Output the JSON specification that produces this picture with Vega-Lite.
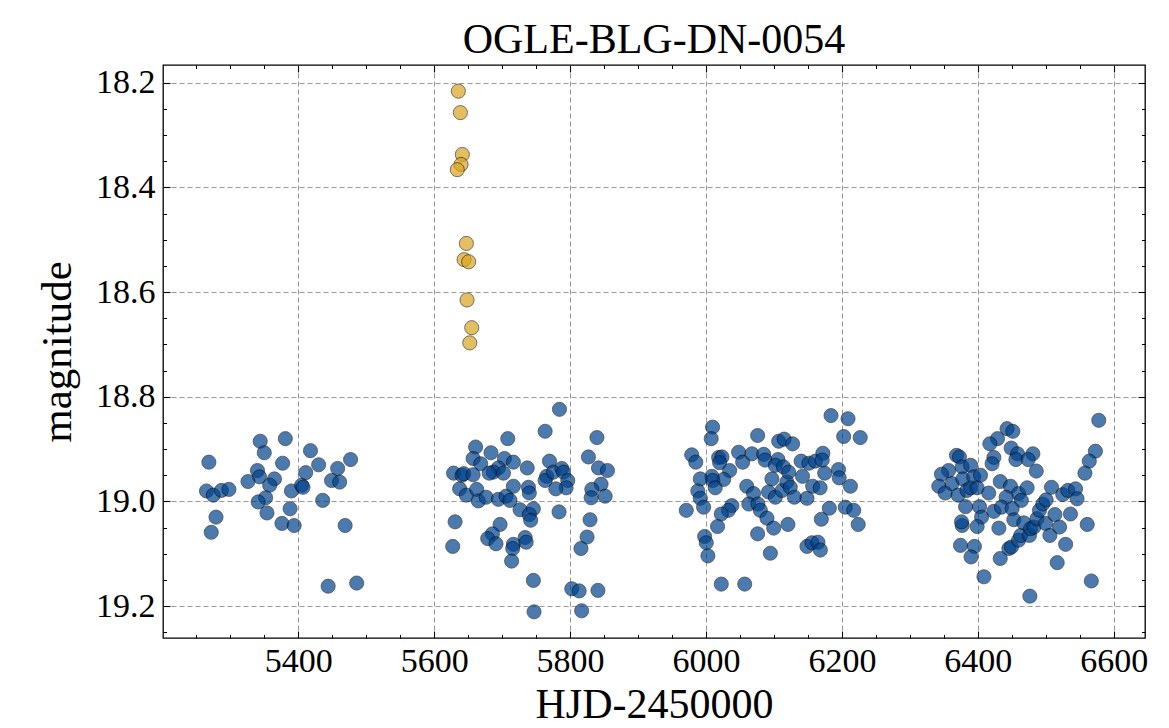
{
  "$schema": "https://vega.github.io/schema/vega-lite/v6.json",
  "width": 982,
  "height": 573,
  "autosize": "none",
  "padding": {"left": 163, "top": 65, "right": 24, "bottom": 90},
  "background": "white",
  "config": {
    "view": {"stroke": "black", "strokeWidth": 1.3},
    "font": "Liberation Serif"
  },
  "title": {
    "text": "OGLE-BLG-DN-0054",
    "font": "Liberation Serif",
    "fontSize": 42,
    "fontWeight": "normal",
    "color": "black",
    "anchor": "middle",
    "frame": "group",
    "baseline": "alphabetic",
    "offset": 13,
    "dy": 44
  },
  "datasets": {
    "obs": [
      {"t": 5268.5, "m": 18.925, "s": "q"}, {"t": 5265, "m": 18.980, "s": "q"}, {"t": 5275, "m": 18.988, "s": "q"},
      {"t": 5287, "m": 18.979, "s": "q"}, {"t": 5298, "m": 18.977, "s": "q"}, {"t": 5279, "m": 19.030, "s": "q"},
      {"t": 5272, "m": 19.059, "s": "q"}, {"t": 5344, "m": 18.885, "s": "q"}, {"t": 5350, "m": 18.907, "s": "q"},
      {"t": 5381, "m": 18.880, "s": "q"}, {"t": 5377, "m": 18.927, "s": "q"}, {"t": 5340, "m": 18.941, "s": "q"},
      {"t": 5343, "m": 18.953, "s": "q"}, {"t": 5326, "m": 18.962, "s": "q"}, {"t": 5365, "m": 18.957, "s": "q"},
      {"t": 5358, "m": 18.969, "s": "q"}, {"t": 5352, "m": 18.993, "s": "q"}, {"t": 5341, "m": 19.001, "s": "q"},
      {"t": 5354, "m": 19.022, "s": "q"}, {"t": 5376, "m": 19.042, "s": "q"}, {"t": 5394, "m": 19.046, "s": "q"},
      {"t": 5388, "m": 19.014, "s": "q"}, {"t": 5390, "m": 18.980, "s": "q"}, {"t": 5405, "m": 18.969, "s": "q"},
      {"t": 5407, "m": 18.973, "s": "q"}, {"t": 5411, "m": 18.945, "s": "q"}, {"t": 5418, "m": 18.903, "s": "q"},
      {"t": 5430, "m": 18.930, "s": "q"}, {"t": 5436, "m": 18.998, "s": "q"}, {"t": 5458, "m": 18.937, "s": "q"},
      {"t": 5449, "m": 18.960, "s": "q"}, {"t": 5461, "m": 18.963, "s": "q"}, {"t": 5477, "m": 18.920, "s": "q"},
      {"t": 5469, "m": 19.046, "s": "q"}, {"t": 5444, "m": 19.162, "s": "q"}, {"t": 5486, "m": 19.156, "s": "q"},

      {"t": 5784.4, "m": 18.824, "s": "q"}, {"t": 5763.3, "m": 18.866, "s": "q"}, {"t": 5708.3, "m": 18.880, "s": "q"},
      {"t": 5661, "m": 18.896, "s": "q"}, {"t": 5839.5, "m": 18.878, "s": "q"}, {"t": 5657.3, "m": 18.918, "s": "q"},
      {"t": 5683.6, "m": 18.907, "s": "q"}, {"t": 5668.5, "m": 18.928, "s": "q"}, {"t": 5703.4, "m": 18.918, "s": "q"},
      {"t": 5716.6, "m": 18.925, "s": "q"}, {"t": 5694.5, "m": 18.936, "s": "q"}, {"t": 5687, "m": 18.944, "s": "q"},
      {"t": 5702, "m": 18.946, "s": "q"}, {"t": 5681, "m": 18.946, "s": "q"}, {"t": 5737, "m": 18.936, "s": "q"},
      {"t": 5628.6, "m": 18.946, "s": "q"}, {"t": 5641, "m": 18.950, "s": "q"}, {"t": 5643.6, "m": 18.947, "s": "q"},
      {"t": 5657.3, "m": 18.949, "s": "q"}, {"t": 5637.5, "m": 18.976, "s": "q"}, {"t": 5647.4, "m": 18.988, "s": "q"},
      {"t": 5662.6, "m": 18.977, "s": "q"}, {"t": 5665, "m": 18.999, "s": "q"}, {"t": 5676.5, "m": 18.992, "s": "q"},
      {"t": 5694.5, "m": 18.996, "s": "q"}, {"t": 5705.8, "m": 18.990, "s": "q"}, {"t": 5711.6, "m": 18.998, "s": "q"},
      {"t": 5716.6, "m": 18.971, "s": "q"}, {"t": 5726.4, "m": 19.016, "s": "q"}, {"t": 5738.7, "m": 18.973, "s": "q"},
      {"t": 5740, "m": 18.984, "s": "q"}, {"t": 5746, "m": 19.014, "s": "q"}, {"t": 5740, "m": 19.025, "s": "q"},
      {"t": 5742, "m": 19.036, "s": "q"}, {"t": 5769.7, "m": 18.923, "s": "q"}, {"t": 5765.6, "m": 18.952, "s": "q"},
      {"t": 5763.3, "m": 18.960, "s": "q"}, {"t": 5775.4, "m": 18.944, "s": "q"}, {"t": 5787.8, "m": 18.937, "s": "q"},
      {"t": 5790.3, "m": 18.944, "s": "q"}, {"t": 5796.6, "m": 18.960, "s": "q"}, {"t": 5794.2, "m": 18.974, "s": "q"},
      {"t": 5779, "m": 18.976, "s": "q"}, {"t": 5783.8, "m": 19.020, "s": "q"}, {"t": 5827, "m": 18.915, "s": "q"},
      {"t": 5841.8, "m": 18.936, "s": "q"}, {"t": 5855, "m": 18.941, "s": "q"}, {"t": 5845.6, "m": 18.967, "s": "q"},
      {"t": 5832, "m": 18.977, "s": "q"}, {"t": 5831, "m": 18.993, "s": "q"}, {"t": 5851.6, "m": 18.990, "s": "q"},
      {"t": 5630.8, "m": 19.039, "s": "q"}, {"t": 5627.3, "m": 19.086, "s": "q"}, {"t": 5697, "m": 19.044, "s": "q"},
      {"t": 5685.7, "m": 19.062, "s": "q"}, {"t": 5678.8, "m": 19.071, "s": "q"}, {"t": 5691, "m": 19.081, "s": "q"},
      {"t": 5716.6, "m": 19.082, "s": "q"}, {"t": 5715.6, "m": 19.090, "s": "q"}, {"t": 5714, "m": 19.114, "s": "q"},
      {"t": 5733.9, "m": 19.069, "s": "q"}, {"t": 5735.4, "m": 19.078, "s": "q"}, {"t": 5829.4, "m": 19.035, "s": "q"},
      {"t": 5825, "m": 19.068, "s": "q"}, {"t": 5816, "m": 19.090, "s": "q"}, {"t": 5746, "m": 19.151, "s": "q"},
      {"t": 5747, "m": 19.211, "s": "q"}, {"t": 5802.5, "m": 19.167, "s": "q"}, {"t": 5813.4, "m": 19.171, "s": "q"},
      {"t": 5841, "m": 19.170, "s": "q"}, {"t": 5817, "m": 19.209, "s": "q"},

      {"t": 6184, "m": 18.836, "s": "q"}, {"t": 6209, "m": 18.842, "s": "q"}, {"t": 6202.6, "m": 18.876, "s": "q"},
      {"t": 6227, "m": 18.878, "s": "q"}, {"t": 6009.7, "m": 18.858, "s": "q"}, {"t": 6007.7, "m": 18.880, "s": "q"},
      {"t": 6076, "m": 18.874, "s": "q"}, {"t": 6107, "m": 18.885, "s": "q"}, {"t": 6115, "m": 18.881, "s": "q"},
      {"t": 6127.5, "m": 18.890, "s": "q"}, {"t": 5979, "m": 18.911, "s": "q"}, {"t": 5985, "m": 18.925, "s": "q"},
      {"t": 6018.6, "m": 18.916, "s": "q"}, {"t": 6023.5, "m": 18.915, "s": "q"}, {"t": 6020, "m": 18.926, "s": "q"},
      {"t": 6048, "m": 18.906, "s": "q"}, {"t": 6054, "m": 18.925, "s": "q"}, {"t": 6067.6, "m": 18.909, "s": "q"},
      {"t": 6085, "m": 18.910, "s": "q"}, {"t": 6087, "m": 18.921, "s": "q"}, {"t": 6106, "m": 18.920, "s": "q"},
      {"t": 6102, "m": 18.931, "s": "q"}, {"t": 6114, "m": 18.934, "s": "q"}, {"t": 6140, "m": 18.923, "s": "q"},
      {"t": 6151.5, "m": 18.927, "s": "q"}, {"t": 6161, "m": 18.923, "s": "q"}, {"t": 6172, "m": 18.908, "s": "q"},
      {"t": 6171, "m": 18.921, "s": "q"}, {"t": 6034.8, "m": 18.941, "s": "q"}, {"t": 6026, "m": 18.958, "s": "q"},
      {"t": 6008.7, "m": 18.952, "s": "q"}, {"t": 5991.6, "m": 18.957, "s": "q"}, {"t": 6010, "m": 18.960, "s": "q"},
      {"t": 6013.6, "m": 18.974, "s": "q"}, {"t": 5988, "m": 18.980, "s": "q"}, {"t": 5991.6, "m": 18.994, "s": "q"},
      {"t": 5996.5, "m": 19.011, "s": "q"}, {"t": 5971, "m": 19.017, "s": "q"}, {"t": 6060, "m": 18.971, "s": "q"},
      {"t": 6070, "m": 18.985, "s": "q"}, {"t": 6097, "m": 18.957, "s": "q"}, {"t": 6092, "m": 18.982, "s": "q"},
      {"t": 6102, "m": 18.992, "s": "q"}, {"t": 6112, "m": 18.979, "s": "q"}, {"t": 6119, "m": 18.963, "s": "q"},
      {"t": 6121.6, "m": 18.944, "s": "q"}, {"t": 6124, "m": 18.973, "s": "q"}, {"t": 6130, "m": 18.992, "s": "q"},
      {"t": 6142, "m": 18.952, "s": "q"}, {"t": 6148.6, "m": 18.994, "s": "q"}, {"t": 6157, "m": 18.971, "s": "q"},
      {"t": 6168, "m": 18.974, "s": "q"}, {"t": 6174.7, "m": 18.946, "s": "q"}, {"t": 6195, "m": 18.939, "s": "q"},
      {"t": 6196, "m": 18.955, "s": "q"}, {"t": 6212.5, "m": 18.971, "s": "q"}, {"t": 6063, "m": 19.005, "s": "q"},
      {"t": 6076.5, "m": 19.005, "s": "q"}, {"t": 6080, "m": 19.017, "s": "q"}, {"t": 6038, "m": 19.008, "s": "q"},
      {"t": 6033, "m": 19.017, "s": "q"}, {"t": 6022.5, "m": 19.024, "s": "q"}, {"t": 6089.7, "m": 19.032, "s": "q"},
      {"t": 6099.6, "m": 19.051, "s": "q"}, {"t": 6120.6, "m": 19.044, "s": "q"}, {"t": 6017, "m": 19.048, "s": "q"},
      {"t": 6076, "m": 19.062, "s": "q"}, {"t": 6181.5, "m": 19.013, "s": "q"}, {"t": 6169.7, "m": 19.034, "s": "q"},
      {"t": 6205, "m": 19.011, "s": "q"}, {"t": 6217.4, "m": 19.017, "s": "q"}, {"t": 6224, "m": 19.044, "s": "q"},
      {"t": 5998, "m": 19.067, "s": "q"}, {"t": 6000.4, "m": 19.079, "s": "q"}, {"t": 6002.8, "m": 19.104, "s": "q"},
      {"t": 6094.7, "m": 19.099, "s": "q"}, {"t": 6148.6, "m": 19.086, "s": "q"}, {"t": 6156, "m": 19.079, "s": "q"},
      {"t": 6164.8, "m": 19.078, "s": "q"}, {"t": 6168.3, "m": 19.093, "s": "q"}, {"t": 6022.5, "m": 19.158, "s": "q"},
      {"t": 6057, "m": 19.158, "s": "q"},

      {"t": 6578, "m": 18.845, "s": "q"}, {"t": 6573, "m": 18.904, "s": "q"}, {"t": 6564, "m": 18.923, "s": "q"},
      {"t": 6557.6, "m": 18.946, "s": "q"}, {"t": 6443, "m": 18.861, "s": "q"}, {"t": 6451.5, "m": 18.866, "s": "q"},
      {"t": 6429, "m": 18.880, "s": "q"}, {"t": 6417.7, "m": 18.890, "s": "q"}, {"t": 6449, "m": 18.898, "s": "q"},
      {"t": 6458.5, "m": 18.909, "s": "q"}, {"t": 6456, "m": 18.920, "s": "q"}, {"t": 6481, "m": 18.909, "s": "q"},
      {"t": 6474, "m": 18.920, "s": "q"}, {"t": 6486, "m": 18.942, "s": "q"}, {"t": 6423.6, "m": 18.916, "s": "q"},
      {"t": 6421, "m": 18.928, "s": "q"}, {"t": 6368.6, "m": 18.912, "s": "q"}, {"t": 6373, "m": 18.915, "s": "q"},
      {"t": 6377, "m": 18.934, "s": "q"}, {"t": 6389.5, "m": 18.931, "s": "q"}, {"t": 6357, "m": 18.941, "s": "q"},
      {"t": 6346.5, "m": 18.948, "s": "q"}, {"t": 6342.6, "m": 18.971, "s": "q"}, {"t": 6352, "m": 18.984, "s": "q"},
      {"t": 6362, "m": 18.966, "s": "q"}, {"t": 6371, "m": 18.988, "s": "q"}, {"t": 6378, "m": 18.957, "s": "q"},
      {"t": 6384, "m": 18.979, "s": "q"}, {"t": 6389.5, "m": 18.974, "s": "q"}, {"t": 6394, "m": 18.953, "s": "q"},
      {"t": 6404, "m": 18.950, "s": "q"}, {"t": 6399, "m": 18.974, "s": "q"}, {"t": 6416, "m": 18.984, "s": "q"},
      {"t": 6433, "m": 18.962, "s": "q"}, {"t": 6448, "m": 18.971, "s": "q"}, {"t": 6460, "m": 18.985, "s": "q"},
      {"t": 6472.6, "m": 18.974, "s": "q"}, {"t": 6464, "m": 18.998, "s": "q"}, {"t": 6441.7, "m": 18.992, "s": "q"},
      {"t": 6382, "m": 19.010, "s": "q"}, {"t": 6402.5, "m": 19.010, "s": "q"}, {"t": 6405.5, "m": 19.030, "s": "q"},
      {"t": 6423.6, "m": 19.019, "s": "q"}, {"t": 6434.8, "m": 19.011, "s": "q"}, {"t": 6450.5, "m": 19.014, "s": "q"},
      {"t": 6453, "m": 19.035, "s": "q"}, {"t": 6377, "m": 19.046, "s": "q"}, {"t": 6376, "m": 19.039, "s": "q"},
      {"t": 6399, "m": 19.048, "s": "q"}, {"t": 6431, "m": 19.051, "s": "q"}, {"t": 6374.5, "m": 19.084, "s": "q"},
      {"t": 6395, "m": 19.086, "s": "q"}, {"t": 6390, "m": 19.106, "s": "q"}, {"t": 6433, "m": 19.109, "s": "q"},
      {"t": 6409, "m": 19.144, "s": "q"}, {"t": 6445.7, "m": 19.090, "s": "q"}, {"t": 6449.5, "m": 19.087, "s": "q"},
      {"t": 6460, "m": 19.074, "s": "q"}, {"t": 6463, "m": 19.065, "s": "q"}, {"t": 6467.7, "m": 19.041, "s": "q"},
      {"t": 6476, "m": 19.065, "s": "q"}, {"t": 6477.6, "m": 19.052, "s": "q"}, {"t": 6482.5, "m": 19.049, "s": "q"},
      {"t": 6487, "m": 19.033, "s": "q"}, {"t": 6490.7, "m": 19.017, "s": "q"}, {"t": 6495.6, "m": 19.005, "s": "q"},
      {"t": 6500.5, "m": 18.997, "s": "q"}, {"t": 6508.4, "m": 18.973, "s": "q"}, {"t": 6499.6, "m": 19.042, "s": "q"},
      {"t": 6506, "m": 19.065, "s": "q"}, {"t": 6513.4, "m": 19.025, "s": "q"}, {"t": 6520.3, "m": 19.049, "s": "q"},
      {"t": 6529.2, "m": 19.082, "s": "q"}, {"t": 6516.8, "m": 19.117, "s": "q"}, {"t": 6536.3, "m": 19.024, "s": "q"},
      {"t": 6525, "m": 18.987, "s": "q"}, {"t": 6532.5, "m": 18.979, "s": "q"}, {"t": 6543.8, "m": 18.976, "s": "q"},
      {"t": 6546, "m": 18.995, "s": "q"}, {"t": 6561, "m": 19.044, "s": "q"}, {"t": 6567, "m": 19.152, "s": "q"},
      {"t": 6476.6, "m": 19.181, "s": "q"},

      {"t": 5635.6, "m": 18.216, "s": "o"}, {"t": 5638.6, "m": 18.257, "s": "o"}, {"t": 5641.5, "m": 18.337, "s": "o"},
      {"t": 5639.6, "m": 18.356, "s": "o"}, {"t": 5634, "m": 18.366, "s": "o"}, {"t": 5647.4, "m": 18.507, "s": "o"},
      {"t": 5644, "m": 18.538, "s": "o"}, {"t": 5650.8, "m": 18.542, "s": "o"}, {"t": 5648.4, "m": 18.615, "s": "o"},
      {"t": 5655.3, "m": 18.668, "s": "o"}, {"t": 5652.4, "m": 18.697, "s": "o"}
    ]
  },
  "data": {"name": "obs"},
  "resolve": {"axis": {"x": "independent", "y": "independent"}},
  "layer": [
    {
      "mark": {"type": "point", "filled": true, "size": 200, "opacity": 0.7, "stroke": "black", "strokeWidth": 1, "strokeOpacity": 0.75},
      "encoding": {
        "x": {
          "field": "t", "type": "quantitative",
          "scale": {"domain": [5201, 6646], "nice": false, "zero": false},
          "axis": {
            "orient": "bottom", "values": [5400, 5600, 5800, 6000, 6200, 6400, 6600], "format": "d",
            "grid": true, "gridDash": [5, 3], "gridColor": "#8c8c8c", "gridWidth": 0.9,
            "domain": false, "ticks": true, "tickSize": -7, "tickColor": "black", "tickWidth": 1.1,
            "labelFont": "Liberation Serif", "labelFontSize": 34, "labelColor": "black", "labelPadding": 13,
            "title": "HJD-2450000", "titleFont": "Liberation Serif", "titleFontSize": 42, "titleFontWeight": "normal",
            "titleColor": "black", "titlePadding": 6
          }
        },
        "y": {
          "field": "m", "type": "quantitative",
          "scale": {"domain": [18.166, 19.261], "nice": false, "zero": false, "reverse": true},
          "axis": {
            "orient": "left", "values": [18.2, 18.4, 18.6, 18.8, 19.0, 19.2], "format": ".1f",
            "grid": true, "gridDash": [5, 3], "gridColor": "#8c8c8c", "gridWidth": 0.9,
            "domain": false, "ticks": true, "tickSize": -7, "tickColor": "black", "tickWidth": 1.1,
            "labelFont": "Liberation Serif", "labelFontSize": 34, "labelColor": "black", "labelPadding": 15,
            "title": "magnitude", "titleFont": "Liberation Serif", "titleFontSize": 43, "titleFontWeight": "normal",
            "titleColor": "black", "titlePadding": 16
          }
        },
        "color": {
          "field": "s", "type": "nominal",
          "scale": {"domain": ["q", "o"], "range": ["#00428c", "#daa520"]},
          "legend": null
        }
      }
    },
    {
      "mark": {"type": "point", "opacity": 0},
      "encoding": {
        "x": {"field": "t", "type": "quantitative",
          "axis": {"orient": "top", "values": [5400, 5600, 5800, 6000, 6200, 6400, 6600], "labels": false, "grid": false, "domain": false,
            "tickSize": -7, "tickColor": "black", "tickWidth": 1.1, "title": null}},
        "y": {"field": "m", "type": "quantitative",
          "axis": {"orient": "right", "values": [18.2, 18.4, 18.6, 18.8, 19.0, 19.2], "labels": false, "grid": false, "domain": false,
            "tickSize": -7, "tickColor": "black", "tickWidth": 1.1, "title": null}}
      }
    },
    {
      "mark": {"type": "point", "opacity": 0},
      "encoding": {
        "x": {"field": "t", "type": "quantitative",
          "axis": {"orient": "bottom", "values": [5250, 5300, 5350, 5450, 5500, 5550, 5650, 5700, 5750, 5850, 5900, 5950, 6050, 6100, 6150, 6250, 6300, 6350, 6450, 6500, 6550],
            "labels": false, "grid": false, "domain": false, "tickSize": -3.5, "tickColor": "black", "tickWidth": 1, "title": null}},
        "y": {"field": "m", "type": "quantitative",
          "axis": {"orient": "left", "values": [18.25, 18.3, 18.35, 18.45, 18.5, 18.55, 18.65, 18.7, 18.75, 18.85, 18.9, 18.95, 19.05, 19.1, 19.15, 19.25],
            "labels": false, "grid": false, "domain": false, "tickSize": -3.5, "tickColor": "black", "tickWidth": 1, "title": null}}
      }
    },
    {
      "mark": {"type": "point", "opacity": 0},
      "encoding": {
        "x": {"field": "t", "type": "quantitative",
          "axis": {"orient": "top", "values": [5250, 5300, 5350, 5450, 5500, 5550, 5650, 5700, 5750, 5850, 5900, 5950, 6050, 6100, 6150, 6250, 6300, 6350, 6450, 6500, 6550],
            "labels": false, "grid": false, "domain": false, "tickSize": -3.5, "tickColor": "black", "tickWidth": 1, "title": null}},
        "y": {"field": "m", "type": "quantitative",
          "axis": {"orient": "right", "values": [18.25, 18.3, 18.35, 18.45, 18.5, 18.55, 18.65, 18.7, 18.75, 18.85, 18.9, 18.95, 19.05, 19.1, 19.15, 19.25],
            "labels": false, "grid": false, "domain": false, "tickSize": -3.5, "tickColor": "black", "tickWidth": 1, "title": null}}
      }
    }
  ]
}
